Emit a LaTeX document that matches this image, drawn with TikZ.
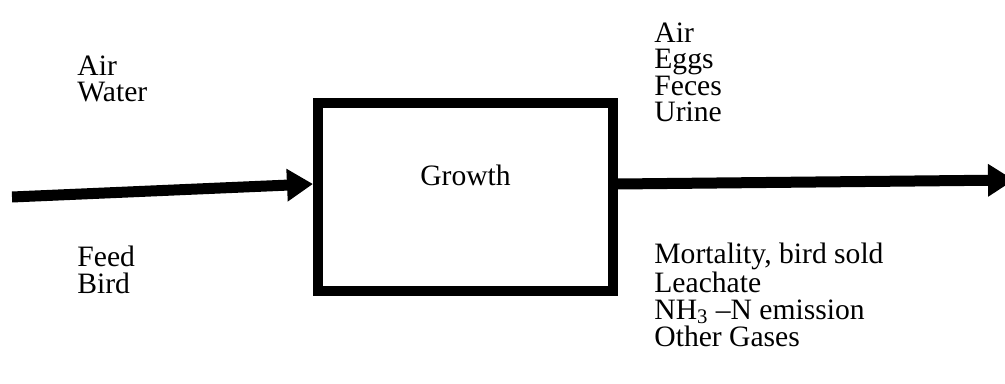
\documentclass[tikz,border=0pt]{standalone}
\usepackage{fontspec}
\setmainfont{Liberation Serif}
\usetikzlibrary{arrows.meta}

\begin{document}
\begin{tikzpicture}[x=0.5pt,y=-0.5pt]
			\tikzset{stream/.style={line width=5.5pt,-{Triangle[length=13pt,width=15.5pt]}}}
			\tikzset{stage/.style={draw,line width=5pt,minimum width=147.5pt,minimum height=94pt,inner sep=0pt}}
			% anchor base = baseline of the last line
			\tikzset{flowtext/.style={anchor=base west,align=left,inner sep=0pt,font=\fontsize{14.8pt}{13.3pt}\selectfont}}
			\useasboundingbox (0,0) rectangle (1005,384);
			\node[stage] (growth) at (465.5,197) {};
			\node[flowtext,anchor=base] (growthname) at ([yshift=5.5pt]growth.center) {Growth};
			\node[flowtext] (inTop) at (77,102) {Air\\Water};
			\node[flowtext] (inBottom) at (77,293) {Feed\\Bird};
			\node[flowtext] (outTop) at (654,122) {Air\\Eggs\\Feces\\Urine};
			\node[flowtext] (outBottom) at (654,346) {Mortality, bird sold\\Leachate\\NH\textsubscript{3} –N emission\\Other Gases};
			\coordinate (source) at (12,197);
			\coordinate (sink) at (1014,180);
			\draw[stream] (source) -- ([yshift=6.5pt]growth.west);
			\draw[stream] ([yshift=6.5pt]growth.east) -- (sink);
		\end{tikzpicture}
\end{document}
